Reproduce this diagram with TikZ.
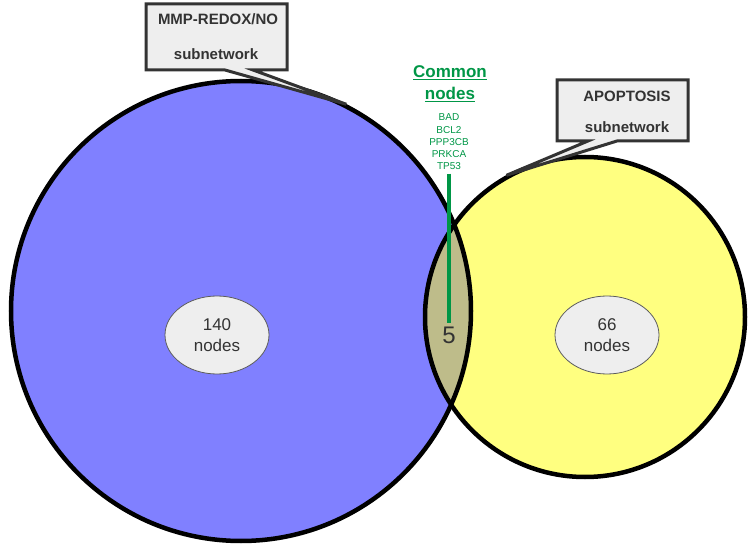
\documentclass[tikz,border=0pt]{standalone}
\usepackage{fontspec}
\setmainfont{Liberation Sans}
\usetikzlibrary{shapes.geometric,calc}
\definecolor{mmpblue}{RGB}{128,128,255}
\definecolor{apoyellow}{RGB}{255,255,128}
\definecolor{lensolive}{RGB}{190,188,138}
\definecolor{boxgray}{RGB}{238,238,238}
\definecolor{inkgray}{RGB}{51,51,51}
\definecolor{commongreen}{RGB}{0,150,70}

\begin{document}
\begin{tikzpicture}[x=1pt,y=-1pt,
    setline/.style={line width=4.5pt,draw=black},
    callout/.style={line width=3pt,draw=inkgray,fill=boxgray,line join=miter},
    boxtext/.style={font=\fontsize{15}{18}\selectfont\bfseries,text=inkgray},
    countblob/.style={ellipse,draw=inkgray!80,line width=0.8pt,fill=boxgray,
      minimum width=104pt,minimum height=78pt,inner sep=0pt,align=center,
      text=inkgray,font=\fontsize{17}{21}\selectfont}]
  \useasboundingbox (0,0) rectangle (756,556);
  \coordinate (mmpc) at (241,311);
  \coordinate (apoc) at (585,317);

  % the two sets and their overlap
  \fill[mmpblue] (mmpc) circle (230);
  \fill[apoyellow] (apoc) circle (160);
  \begin{scope}
    \clip (mmpc) circle (230);
    \fill[lensolive] (apoc) circle (160);
  \end{scope}
  \draw[setline] (mmpc) circle (230);
  \draw[setline] (apoc) circle (160);

  % callouts
  \filldraw[callout] (146,4) -- (287,4) -- (287,70) -- (253,70)
    -- ($(mmpc)+(-63:232)$) -- (225,70) -- (146,70) -- cycle;
  \node[boxtext] (mmptitle) at (218,19) {MMP-REDOX/NO};
  \node[boxtext] (mmpsub) at (216,54) {subnetwork};

  \filldraw[callout] (557,80) -- (688,80) -- (688,141) -- (617,141)
    -- ($(apoc)+(-119:162)$) -- (588,141) -- (557,141) -- cycle;
  \node[boxtext] (apotitle) at (627,96) {APOPTOSIS};
  \node[boxtext] (aposub) at (627,127) {subnetwork};

  % common nodes
  \node[font=\fontsize{17}{22}\selectfont\bfseries,text=commongreen,align=center]
    (commonhead) at (450,84) {\underline{Common}\\\underline{nodes}};
  \node[font=\fontsize{10}{12.3}\selectfont,text=commongreen,align=center]
    (genes) at (449,142) {BAD\\BCL2\\PPP3CB\\PRKCA\\TP53};
  \node[font=\fontsize{24}{28}\selectfont,text=inkgray] (count) at (449,335) {5};
  \draw[commongreen,line width=4pt] (genes) -- (count);

  \node[countblob] (mmpcount) at (217,335) {140\\nodes};
  \node[countblob] (apocount) at (607,335) {66\\nodes};
\end{tikzpicture}
\end{document}
